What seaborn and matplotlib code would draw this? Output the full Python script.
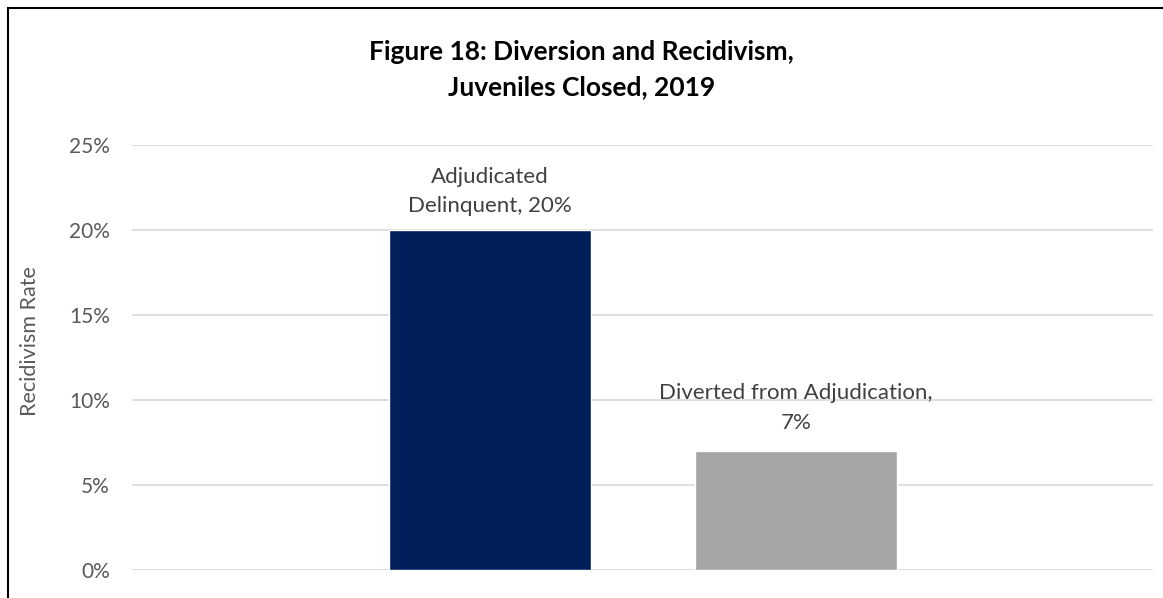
import matplotlib
matplotlib.use("Agg")
import matplotlib.pyplot as plt
import matplotlib.patches as mpatches
import pandas as pd
import seaborn as sns

# Data
categories = ["Adjudicated Delinquent", "Diverted from Adjudication"]
label_text = ["Adjudicated\nDelinquent, 20%", "Diverted from Adjudication,\n7%"]
rates = [20, 7]
bar_colors = ["#001F5B", "#A5A5A5"]
y_ticks = [0, 5, 10, 15, 20, 25]
y_tick_labels = ["0%", "5%", "10%", "15%", "20%", "25%"]

sns.set_theme(style="white")
plt.rcParams["font.family"] = ["Lato", "DejaVu Sans"]

df = pd.DataFrame({"group": categories, "rate": rates})

W, H, DPI = 1163, 598, 100
fig = plt.figure(figsize=(W / DPI, H / DPI), dpi=DPI)
ax = fig.add_axes([132 / W, 1 - 570 / H, (1153 - 132) / W, (570 - 145) / H])

sns.barplot(data=df, x="group", y="rate", hue="group", palette=bar_colors,
            width=0.66, legend=False, ax=ax, saturation=1)

ax.set_xlim(-1.17, 2.167)
ax.set_ylim(0, 25)
ax.set_yticks(y_ticks)
ax.set_yticklabels(y_tick_labels, color="#595959", fontsize=15)
ax.set_xticks([])
ax.set_xlabel("")
ax.set_ylabel("Recidivism Rate", color="#595959", fontsize=15.5)
ax.yaxis.set_label_coords(-0.0905, 0.539)
ax.tick_params(axis="y", length=0, pad=16)
ax.yaxis.grid(True, color="#D9D9D9", linewidth=1.2)
ax.set_axisbelow(True)
for s in ax.spines.values():
    s.set_visible(False)

# Value labels above each bar
offsets = [10, 13]
for i, (txt, v) in enumerate(zip(label_text, rates)):
    ax.annotate(txt, xy=(i, v), xytext=(0, offsets[i]), textcoords="offset points",
                ha="center", va="bottom", fontsize=16, color="#404040",
                linespacing=1.6)

fig.text(0.5, 1 - 70 / H, "Figure 18: Diversion and Recidivism,\nJuveniles Closed, 2019",
         ha="center", va="center", fontsize=19, fontweight="bold", color="black",
         linespacing=1.55)

# Chart frame
fig.patches.append(mpatches.Rectangle((7.5 / W, -0.05), 1.2, 1 - 7.5 / H + 0.05,
                                      transform=fig.transFigure, fill=False,
                                      edgecolor="black", linewidth=1.5))

fig.savefig("out.png", dpi=DPI)
